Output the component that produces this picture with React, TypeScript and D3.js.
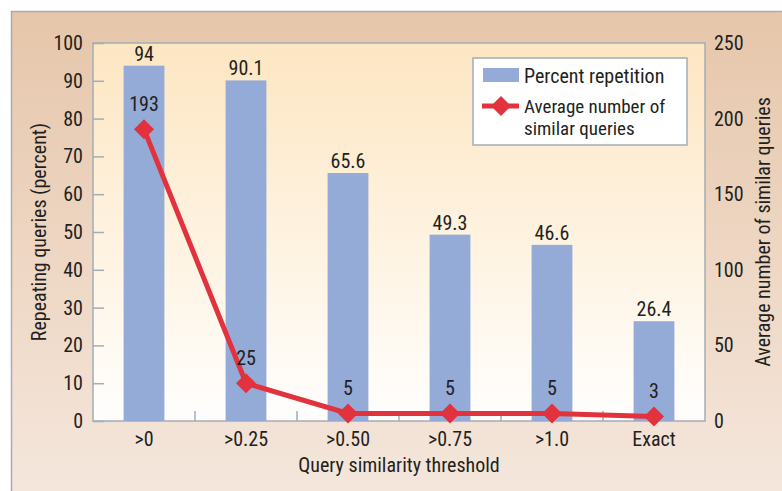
import React, { useEffect, useRef } from 'react';
import * as d3 from 'd3';

const categories = ['>0', '>0.25', '>0.50', '>0.75', '>1.0', 'Exact'];
const percentRepetition = [94, 90.1, 65.6, 49.3, 46.6, 26.4];
const avgSimilar = [193, 25, 5, 5, 5, 3];
const leftTicks = [0, 10, 20, 30, 40, 50, 60, 70, 80, 90, 100];
const rightTicks = [0, 50, 100, 150, 200, 250];

const FONT = '"Liberation Sans Narrow", "Roboto Condensed", "Liberation Sans", Arial, sans-serif';
const TEXT = '#231f20';
const BAR = '#93abd6';
const RED = '#e2323e';
const AXIS = '#a3adb5';

const App: React.FC = () => {
  const svgRef = useRef<SVGSVGElement>(null);

  useEffect(() => {
    if (!svgRef.current) return;
    const W = 782, H = 491;
    const margin = { top: 43, right: 77, bottom: 70, left: 93 };
    const width = W - margin.left - margin.right;
    const height = H - margin.top - margin.bottom;

    const svg = d3.select(svgRef.current);
    svg.selectAll('*').remove();

    const defs = svg.append('defs');
    const panelGrad = defs.append('linearGradient')
      .attr('id', 'panel-grad').attr('x1', 0).attr('y1', 0).attr('x2', 0).attr('y2', 1);
    panelGrad.append('stop').attr('offset', '0%').attr('stop-color', '#e6c6aa');
    panelGrad.append('stop').attr('offset', '100%').attr('stop-color', '#f5e7dd');

    const plotGrad = defs.append('linearGradient')
      .attr('id', 'plot-grad').attr('x1', 0).attr('y1', 0).attr('x2', 0).attr('y2', 1);
    plotGrad.append('stop').attr('offset', '0%').attr('stop-color', '#fde6c2');
    plotGrad.append('stop').attr('offset', '100%').attr('stop-color', '#fffefd');

    // outer panel
    svg.append('rect')
      .attr('x', 11).attr('y', 11).attr('width', W).attr('height', H)
      .attr('fill', 'url(#panel-grad)');
    svg.append('line').attr('x1', 11).attr('x2', W).attr('y1', 11.5).attr('y2', 11.5)
      .attr('stroke', '#a8acae').attr('stroke-width', 1.5);
    svg.append('line').attr('x1', 11.5).attr('x2', 11.5).attr('y1', 11).attr('y2', H)
      .attr('stroke', '#a8acae').attr('stroke-width', 1.5);

    const g = svg.append('g').attr('transform', `translate(${margin.left},${margin.top})`);

    const x = d3.scaleBand<string>().domain(categories).range([0, width]).paddingInner(0.6).paddingOuter(0.3);
    const xStep = d3.scaleBand<string>().domain(categories).range([0, width]);
    const yL = d3.scaleLinear().domain([0, 100]).range([height, 0]);
    const yR = d3.scaleLinear().domain([0, 250]).range([height, 0]);

    g.append('rect').attr('width', width).attr('height', height)
      .attr('fill', 'url(#plot-grad)').attr('stroke', AXIS).attr('stroke-width', 1.5);

    // bars
    g.selectAll('.bar').data(percentRepetition).enter().append('rect')
      .attr('x', (_, i) => x(categories[i])!)
      .attr('y', d => yL(d))
      .attr('width', x.bandwidth())
      .attr('height', d => height - yL(d))
      .attr('fill', BAR);

    // bar labels
    g.selectAll('.barlabel').data(percentRepetition).enter().append('text')
      .attr('x', (_, i) => x(categories[i])! + x.bandwidth() / 2)
      .attr('y', d => yL(d) - 5)
      .attr('text-anchor', 'middle')
      .style('font-family', FONT).style('font-size', '20px').attr('fill', TEXT)
      .text(d => String(d));

    // left axis
    const left = g.append('g')
      .call(d3.axisLeft(yL).tickValues(leftTicks).tickSize(-11).tickPadding(10));
    left.select('.domain').remove();
    left.selectAll('line').attr('stroke', AXIS).attr('stroke-width', 1.5);
    left.selectAll('text').style('font-family', FONT).style('font-size', '20px').attr('fill', TEXT);

    // right axis
    const right = g.append('g').attr('transform', `translate(${width},0)`)
      .call(d3.axisRight(yR).tickValues(rightTicks).tickSize(0).tickPadding(9));
    right.select('.domain').remove();
    right.selectAll('text').style('font-family', FONT).style('font-size', '20px').attr('fill', TEXT);

    // bottom axis
    const bottom = g.append('g').attr('transform', `translate(0,${height})`)
      .call(d3.axisBottom(x).tickSize(0).tickPadding(10));
    bottom.select('.domain').remove();
    bottom.selectAll('text').style('font-family', FONT).style('font-size', '20px').attr('fill', TEXT)
      .attr('dy', '0.75em');
    g.selectAll('.sep').data(categories.slice(1)).enter().append('line')
      .attr('x1', d => xStep(d)!).attr('x2', d => xStep(d)!)
      .attr('y1', height).attr('y2', height - 10)
      .attr('stroke', AXIS).attr('stroke-width', 1.5);

    // line series
    const cx = (i: number) => x(categories[i])! + x.bandwidth() / 2;
    const line = d3.line<number>().x((_, i) => cx(i)).y(d => yR(d));
    g.append('path').datum(avgSimilar)
      .attr('fill', 'none').attr('stroke', RED).attr('stroke-width', 5).attr('d', line);
    const diamond = d3.symbol().type(d3.symbolSquare).size(200);
    g.selectAll('.marker').data(avgSimilar).enter().append('path')
      .attr('d', diamond)
      .attr('transform', (d, i) => `translate(${cx(i)},${yR(d)}) rotate(45)`)
      .attr('fill', RED);
    g.selectAll('.linelabel').data(avgSimilar).enter().append('text')
      .attr('x', (_, i) => cx(i))
      .attr('y', d => yR(d) - 18)
      .attr('text-anchor', 'middle')
      .style('font-family', FONT).style('font-size', '20px').attr('fill', TEXT)
      .text(d => String(d));

    // axis titles
    svg.append('text')
      .attr('transform', `translate(46,${margin.top + height / 2}) rotate(-90)`)
      .attr('text-anchor', 'middle')
      .style('font-family', FONT).style('font-size', '20px').attr('fill', TEXT)
      .text('Repeating queries (percent)');
    svg.append('text')
      .attr('transform', `translate(770,${margin.top + height / 2}) rotate(-90)`)
      .attr('text-anchor', 'middle')
      .style('font-family', FONT).style('font-size', '20px').attr('fill', TEXT)
      .text('Average number of similar queries');
    svg.append('text')
      .attr('x', margin.left + width / 2).attr('y', 472)
      .attr('text-anchor', 'middle')
      .style('font-family', FONT).style('font-size', '20px').attr('fill', TEXT)
      .text('Query similarity threshold');

    // legend
    const lg = svg.append('g').attr('transform', 'translate(473,58)');
    lg.append('rect').attr('width', 214).attr('height', 87)
      .attr('fill', '#ffffff').attr('stroke', AXIS).attr('stroke-width', 1.5);
    lg.append('rect').attr('x', 10).attr('y', 10).attr('width', 36).attr('height', 14).attr('fill', BAR);
    lg.append('text').attr('x', 51).attr('y', 25)
      .style('font-family', FONT).style('font-size', '20px').attr('fill', TEXT)
      .text('Percent repetition');
    lg.append('line').attr('x1', 9).attr('x2', 46).attr('y1', 48).attr('y2', 48)
      .attr('stroke', RED).attr('stroke-width', 5);
    lg.append('path').attr('d', diamond).attr('transform', 'translate(28,48) rotate(45)').attr('fill', RED);
    lg.append('text').attr('x', 51).attr('y', 55)
      .style('font-family', FONT).style('font-size', '19px').attr('fill', TEXT)
      .text('Average number of');
    lg.append('text').attr('x', 51).attr('y', 77)
      .style('font-family', FONT).style('font-size', '19px').attr('fill', TEXT)
      .text('similar queries');
  }, []);

  return (
    <svg ref={svgRef} width={782} height={491}
      style={{ position: 'absolute', left: 0, top: 0, display: 'block' }} />
  );
};

export default App;
